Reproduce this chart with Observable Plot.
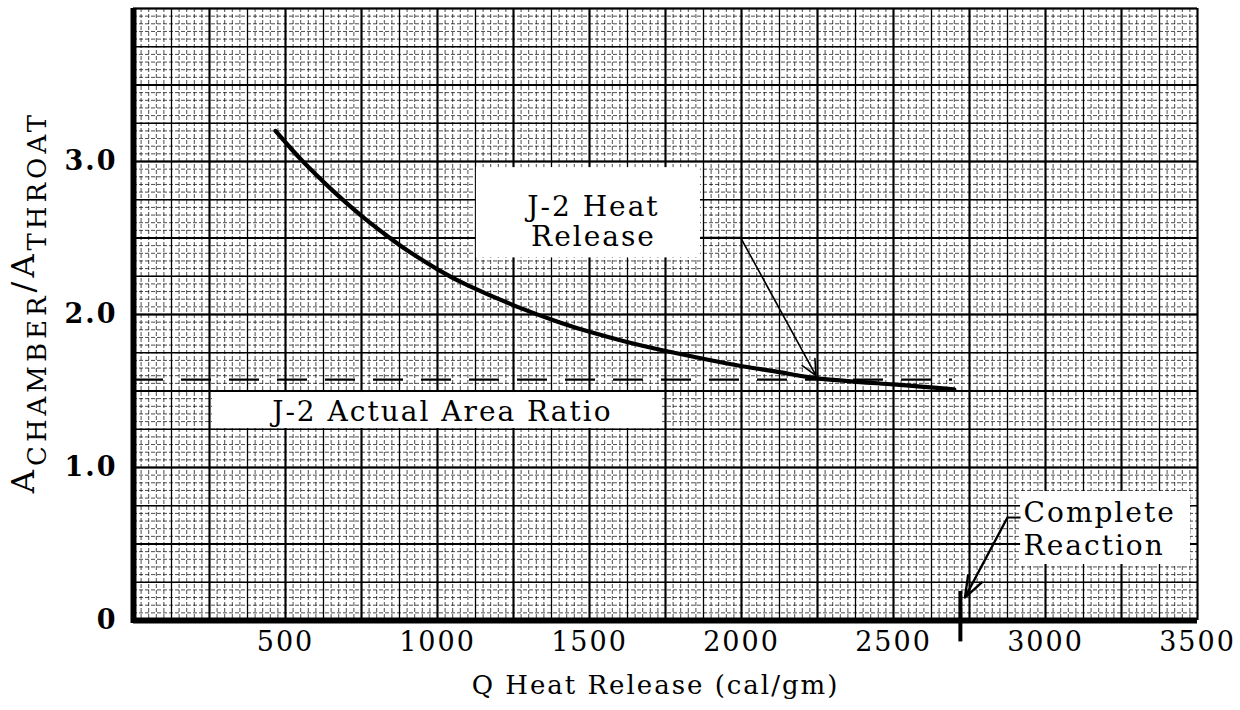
<!DOCTYPE html>
<html>
<head>
<meta charset="utf-8">
<script src="https://cdn.jsdelivr.net/npm/d3@7"></script>
<script src="https://cdn.jsdelivr.net/npm/@observablehq/plot@0.6"></script>
<style>
  html, body { margin: 0; padding: 0; background: #fff; }
  #chart svg { display: block; }
</style>
</head>
<body>
<div id="chart"></div>
<script>
// ---- data ----
const heatRelease = [467, 520, 555, 600, 658, 720, 770, 850, 911, 1000, 1100, 1263, 1400, 1503, 1620, 1743, 1870, 2007, 2130, 2250, 2500, 2700];
const areaRatio   = [3.20, 3.08, 3.005, 2.915, 2.805, 2.695, 2.612, 2.49, 2.405, 2.295, 2.19, 2.05, 1.95, 1.885, 1.822, 1.765, 1.712, 1.66, 1.622, 1.583, 1.543, 1.51];
const actualAreaRatio = [1.575];       // J-2 actual area ratio (dashed)
const j2HeatRelease = [2250];           // J-2 heat release point
const completeReaction = [2720];        // complete reaction marker
const xTickValues = [500, 1000, 1500, 2000, 2500, 3000, 3500];
const yTickValues = [0, 1, 2, 3];
const xTitle = ["Q Heat Release (cal/gm)"];
const noteHeat = ["J-2 Heat\nRelease"];
const noteActual = ["J-2 Actual Area Ratio"];
const noteComplete = ["Complete\nReaction"];

const curve = heatRelease.map((q, i) => ({q, r: areaRatio[i]}));

const font = "DejaVu Serif";

const chart = Plot.plot({
  width: 1240,
  height: 710,
  marginLeft: 133,
  marginRight: 43,
  marginTop: 8,
  marginBottom: 90,
  style: {fontFamily: font, background: "#fff", color: "#000"},
  x: {domain: [0, 3500]},
  y: {domain: [0, 4]},
  marks: [
    // graph-paper grid
    Plot.gridX({ticks: d3.range(0, 3501, 25), stroke: "#000", strokeOpacity: 0.7, strokeWidth: 1, strokeDasharray: "4,2"}),
    Plot.gridY({ticks: d3.range(0, 4.001, 0.05), stroke: "#000", strokeOpacity: 0.7, strokeWidth: 1, strokeDasharray: "4,2"}),
    Plot.gridX({ticks: d3.range(0, 3501, 125), stroke: "#000", strokeOpacity: 1, strokeWidth: 1.3}),
    Plot.gridY({ticks: d3.range(0, 4.001, 0.25), stroke: "#000", strokeOpacity: 1, strokeWidth: 1.3}),
    Plot.gridX({ticks: d3.range(0, 3501, 250), stroke: "#000", strokeOpacity: 1, strokeWidth: 2}),
    Plot.gridY({ticks: d3.range(0, 4.001, 0.5), stroke: "#000", strokeOpacity: 1, strokeWidth: 2}),

    // white label boxes
    Plot.rect([0], {x1: 1128, x2: 1865, y1: 2.37, y2: 2.96, fill: "#fff"}),
    Plot.rect([0], {x1: 260, x2: 1740, y1: 1.255, y2: 1.49, fill: "#fff"}),
    Plot.rect([0], {x1: 2918, x2: 3477, y1: 0.366, y2: 0.843, fill: "#fff"}),

    // J-2 actual area ratio (dashed)
    Plot.ruleY(actualAreaRatio, {x1: 0, x2: 2694, stroke: "#000", strokeWidth: 2.2, strokeDasharray: "30,18"}),

    // main curve
    Plot.line(curve, {x: "q", y: "r", curve: "natural", stroke: "#000", strokeWidth: 4.2}),

    // annotation leaders & arrows
    Plot.link([0], {x1: 1865, y1: 2.503, x2: 1997, y2: 2.503, stroke: "#000", strokeWidth: 1.6}),
    Plot.arrow(j2HeatRelease, {x1: 1997, y1: 2.503, x2: d => d - 5, y2: 1.60, stroke: "#000", strokeWidth: 1.6, headLength: 16, headAngle: 50}),
    Plot.link([0], {x1: 2918, y1: 0.673, x2: 2875, y2: 0.673, stroke: "#000", strokeWidth: 2}),
    Plot.arrow(completeReaction, {x1: 2875, y1: 0.673, x2: d => d + 15, y2: 0.15, stroke: "#000", strokeWidth: 2.4, headLength: 14, headAngle: 40}),
    Plot.ruleX(completeReaction, {y1: 0.19, y2: -0.14, stroke: "#000", strokeWidth: 4}),

    // notes
    Plot.text(noteHeat, {x: 1513, y: 2.61, fontSize: 28, lineHeight: 1.08, fill: "#000", textAnchor: "middle"}),
    Plot.text(noteActual, {x: 1016, y: 1.36, fontSize: 28, fill: "#000", textAnchor: "middle"}),
    Plot.text(noteComplete, {x: 2928, y: 0.605, fontSize: 28, lineHeight: 1.2, fill: "#000", textAnchor: "start"}),

    // heavy axes
    Plot.ruleY([0], {stroke: "#000", strokeWidth: 6}),
    Plot.ruleX([0], {y1: -0.02, y2: 4, stroke: "#000", strokeWidth: 6}),

    // tick labels
    Plot.axisX({ticks: xTickValues, tickSize: 0, tickPadding: 11, fontSize: 27, label: null, tickFormat: d => String(d)}),
    Plot.axisY({ticks: yTickValues, tickSize: 0, tickPadding: 16, fontSize: 27, fontWeight: "bold",
                tickFormat: d => d === 0 ? "0" : d.toFixed(1), label: null}),

    // x-axis title
    Plot.text(xTitle, {frameAnchor: "bottom", dy: 73, dx: -10, fontSize: 26, fill: "#000"})
  ]
});

document.getElementById("chart").appendChild(chart);

// typewriter-like letter spacing
d3.select(chart).selectAll("text").style("letter-spacing", "2px");

// y-axis title with subscripts
const yTitle = [
  {t: "A", sub: false},
  {t: "CHAMBER", sub: true},
  {t: "/", sub: false},
  {t: "A", sub: false},
  {t: "THROAT", sub: true}
];
const yt = d3.select(chart).append("text")
  .attr("transform", "translate(34,302) rotate(-90)")
  .attr("text-anchor", "middle")
  .attr("font-family", font)
  .attr("fill", "#000")
  .style("letter-spacing", "4px");
let prevSub = false;
yTitle.forEach(p => {
  const dy = p.sub === prevSub ? 0 : (p.sub ? 12 : -12);
  yt.append("tspan")
    .attr("dy", dy)
    .attr("font-size", p.sub ? 26 : 32)
    .text(p.t);
  prevSub = p.sub;
});
</script>
</body>
</html>
